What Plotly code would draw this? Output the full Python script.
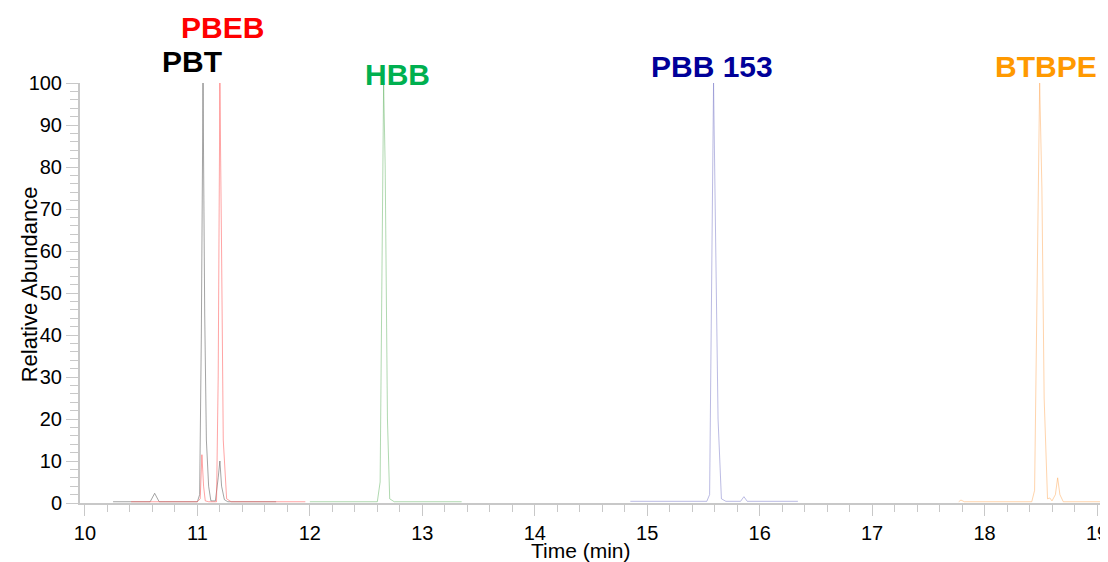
import plotly.graph_objects as go

# ---- data (time in min, relative abundance %) ----
pbt_time = [10.25, 10.58, 10.62, 10.66, 10.72, 11.00, 11.02, 11.035, 11.05, 11.065, 11.08, 11.10, 11.12,
            11.16, 11.185, 11.20, 11.215, 11.24, 11.27, 11.70]
pbt_abund = [0.3, 0.3, 2.3, 0.3, 0.3, 0.3, 2, 40, 100, 45, 15, 4, 0.5, 0.5, 6, 10, 4, 0.8, 0.3, 0.3]

pbeb_time = [10.41, 11.00, 11.025, 11.04, 11.055, 11.07, 11.10, 11.17, 11.185, 11.20, 11.215, 11.23,
             11.26, 11.30, 11.96]
pbeb_abund = [0.3, 0.3, 1, 11.5, 4, 0.5, 0.3, 0.3, 30, 100, 60, 15, 1, 0.3, 0.3]

hbb_time = [12.00, 12.60, 12.625, 12.645, 12.656, 12.67, 12.69, 12.71, 12.75, 13.35]
hbb_abund = [0.3, 0.3, 5, 75, 100, 80, 20, 1, 0.3, 0.3]

pbb153_time = [14.85, 15.53, 15.555, 15.575, 15.59, 15.605, 15.63, 15.66, 15.70, 15.83, 15.86, 15.89,
               15.95, 16.34]
pbb153_abund = [0.4, 0.4, 2, 60, 100, 70, 20, 1, 0.4, 0.4, 1.5, 0.4, 0.4, 0.4]

btbpe_time = [17.77, 17.79, 17.82, 18.42, 18.445, 18.47, 18.49, 18.51, 18.53, 18.56, 18.58, 18.60,
              18.63, 18.65, 18.67, 18.70, 19.08]
btbpe_abund = [0.3, 0.7, 0.3, 0.3, 3, 60, 100, 75, 25, 1, 1.2, 0.5, 2, 6, 2, 0.3, 0.3]

compound_names = ["PBT", "PBEB", "HBB", "PBB 153", "BTBPE"]
label_times = [10.95, 11.22, 12.78, 15.58, 18.55]
label_heights = [1.05, 1.133, 1.021, 1.040, 1.040]   # fraction of plot height
label_colors = ["#000000", "#ff0000", "#00b050", "#000099", "#ff9900"]
line_colors = ["rgba(90,90,90,0.55)", "rgba(255,90,90,0.55)", "rgba(80,170,80,0.45)",
               "rgba(120,120,200,0.5)", "rgba(255,170,90,0.5)"]

x_tick_vals = [10, 11, 12, 13, 14, 15, 16, 17, 18, 19]
y_tick_vals = [0, 10, 20, 30, 40, 50, 60, 70, 80, 90, 100]

series = [(pbt_time, pbt_abund), (pbeb_time, pbeb_abund), (hbb_time, hbb_abund),
          (pbb153_time, pbb153_abund), (btbpe_time, btbpe_abund)]

FONT = "Liberation Sans, Arial, sans-serif"

fig = go.Figure()
for (t, a), name, col in zip(series, compound_names, line_colors):
    fig.add_trace(go.Scatter(x=t, y=a, mode="lines", name=name,
                             line=dict(color=col, width=1), hoverinfo="x+y+name"))

for name, tx, ty, col in zip(compound_names, label_times, label_heights, label_colors):
    fig.add_annotation(x=tx, y=ty, xref="x", yref="paper", text="<b>%s</b>" % name, showarrow=False,
                       font=dict(family=FONT, size=30, color=col),
                       xanchor="center", yanchor="middle")

fig.add_annotation(x=-0.049, y=0.52, xref="paper", yref="paper", text="Relative Abundance",
                   textangle=-90, showarrow=False,
                   font=dict(family=FONT, size=22, color="#000000"),
                   xanchor="center", yanchor="middle")
fig.add_annotation(x=0.488, y=-0.112, xref="paper", yref="paper", text="Time (min)",
                   showarrow=False,
                   font=dict(family=FONT, size=21, color="#000000"),
                   xanchor="center", yanchor="middle")

axis_gray = "#c8c8c8"
fig.update_layout(
    width=1100, height=554,
    margin=dict(l=72, r=0, t=75, b=59),
    paper_bgcolor="white", plot_bgcolor="white",
    showlegend=False,
    font=dict(family=FONT, size=20, color="#000000"),
    xaxis=dict(range=[9.956, 19.08], tickvals=x_tick_vals, ticks="outside", ticklen=11,
               tickwidth=1, tickcolor=axis_gray, showline=True, linecolor=axis_gray, linewidth=2,
               showgrid=False, zeroline=False, ticklabeloverflow="allow",
               minor=dict(dtick=0.2, ticks="outside", ticklen=7, tickcolor=axis_gray, tickwidth=1,
                          showgrid=False),
               tickfont=dict(size=20)),
    yaxis=dict(range=[0, 100], tickvals=y_tick_vals, ticks="outside", ticklen=12,
               tickwidth=1, tickcolor=axis_gray, showline=True, linecolor=axis_gray, linewidth=2,
               showgrid=False, zeroline=False, ticklabeloverflow="allow",
               minor=dict(dtick=2, ticks="outside", ticklen=8, tickcolor=axis_gray, tickwidth=1,
                          showgrid=False),
               tickfont=dict(size=20)),
)

fig.write_html("out.html")
